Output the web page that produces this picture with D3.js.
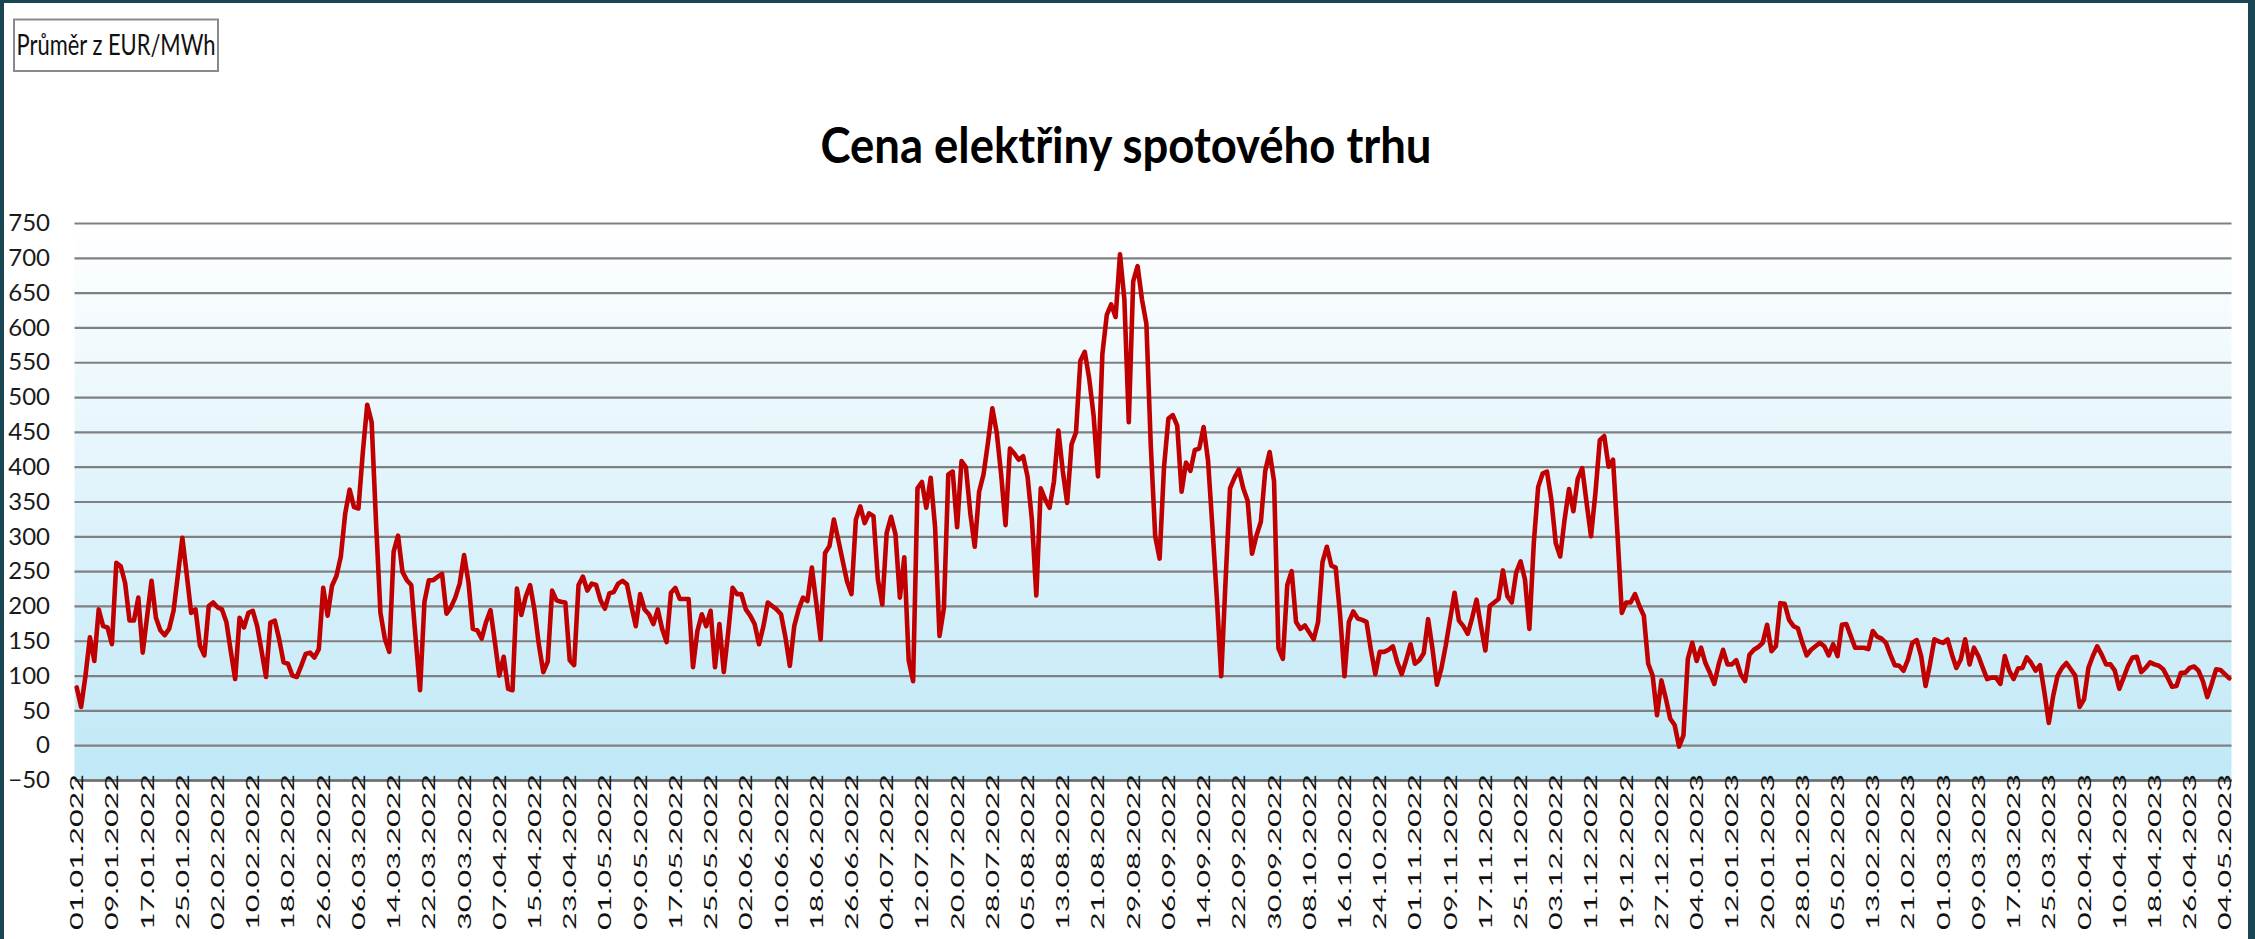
<!DOCTYPE html>
<html><head><meta charset="utf-8">
<script src="https://cdn.jsdelivr.net/npm/d3@7"></script>
<style>html,body{margin:0;padding:0;background:#1a4653;overflow:hidden}</style>
</head><body>
<svg id="c" width="2255" height="939"></svg>
<script>
// Daily average spot price, EUR/MWh, 01.01.2022 – 05.05.2023
const values = [
83,55,100,155,121,195,171,169,145,262,
257,233,179,179,212,133,185,236,183,165,
158,167,193,245,298,245,190,195,143,129,
200,205,198,195,177,135,95,183,169,190,
193,171,135,98,176,179,152,119,117,100,
98,114,131,133,126,138,226,186,229,243,
271,333,367,342,340,421,489,464,320,190,
153,134,278,301,249,237,230,153,79,206,
237,237,242,246,189,198,212,232,273,234,
167,165,153,177,194,148,100,127,81,79,
225,187,213,230,194,144,105,120,222,208,
206,205,122,115,230,242,222,232,230,208,
196,218,220,232,236,231,200,171,217,195,
188,174,195,167,148,219,226,210,210,210,
112,164,188,171,193,112,174,105,162,226,
217,217,195,186,174,145,171,205,200,195,
188,155,114,171,195,212,207,255,205,152,
276,286,324,295,265,235,217,324,343,319,
333,329,238,202,305,328,303,212,270,122,
92,369,378,341,384,313,157,197,389,393,
313,408,399,333,285,364,389,434,484,449,
389,316,426,419,410,415,386,323,215,369,
353,341,379,452,394,348,432,449,552,565,
527,474,386,562,618,633,615,705,640,464,
666,688,640,605,430,300,268,399,469,474,
459,364,406,394,424,426,457,409,313,212,
99,238,369,384,396,369,351,275,301,321,
394,421,379,139,124,230,250,177,167,172,
162,152,177,263,285,258,255,187,99,177,
192,182,180,177,137,102,134,134,137,142,
119,102,122,145,117,122,132,181,138,87,
110,143,181,219,179,171,160,183,209,171,
136,200,205,210,251,214,205,248,264,238,
167,290,371,390,393,352,290,271,324,368,
336,383,398,348,300,362,438,444,400,410,
305,190,205,205,217,200,186,117,100,43,
93,67,38,29,-2,14,124,147,121,140,
118,104,88,116,137,116,116,122,102,92,
130,137,141,147,173,135,142,204,203,180,
171,168,147,129,137,142,147,142,129,145,
128,173,174,157,140,140,140,138,164,156,
153,147,130,115,114,107,123,147,151,128,
85,116,152,149,147,152,130,111,123,152,
116,140,128,111,95,97,97,88,128,107,
95,110,111,126,118,107,115,76,32,71,
100,111,118,109,100,55,66,111,128,142,
130,116,116,107,81,97,114,126,127,105,
111,119,116,114,109,97,84,85,104,104,
111,113,107,92,69,88,109,108,102,96
];
const firstDay = new Date(2022, 0, 1);
const categories = values.map((_, i) => d3.timeDay.offset(firstDay, i));
const yTicks = [-50,0,50,100,150,200,250,300,350,400,450,500,550,600,650,700,750];
const labelStep = 8;
const chartTitle = "Cena elektřiny spotového trhu";
const fieldButton = "Průměr z EUR/MWh";

const fmt = d3.timeFormat("%d.%m.%Y");
const svg = d3.select("#c");
const FONT = "Lato, 'Open Sans', sans-serif";

svg.append("rect").attr("x", 4).attr("y", 3).attr("width", 2244).attr("height", 936).attr("fill", "#ffffff");

const L = 74.5, R = 2231.5, T = 223, B = 780;
const x = d3.scaleBand().domain(d3.range(values.length)).range([L, R]);
const y = d3.scaleLinear().domain([-50, 750]).range([B, T]);

const grad = svg.append("defs").append("linearGradient").attr("id", "bg")
  .attr("x1", 0).attr("y1", 0).attr("x2", 0).attr("y2", 1);
grad.append("stop").attr("offset", "0%").attr("stop-color", "#ffffff");
grad.append("stop").attr("offset", "100%").attr("stop-color", "#c0e8f7");
svg.append("rect").attr("x", L).attr("y", T).attr("width", R - L).attr("height", B - T).attr("fill", "url(#bg)");

// y axis with gridlines
const gy = svg.append("g").attr("transform", `translate(${L},0)`)
  .call(d3.axisLeft(y).tickValues(yTicks).tickSize(-(R - L)).tickPadding(L - 50).tickFormat(d3.format("d")));
gy.select(".domain").remove();
gy.selectAll(".tick line").attr("stroke", "#808080").attr("stroke-width", 2.2);
gy.selectAll(".tick text").attr("font-family", FONT).attr("font-size", 24).attr("fill", "#1a1a1a");

// x axis: rotated date labels every 8 days, reading bottom-to-top, ending just above the axis line
const tickIdx = d3.range(0, values.length, labelStep);
const gx = svg.append("g").attr("transform", `translate(0,${B})`)
  .call(d3.axisBottom(x).tickValues(tickIdx).tickSize(0).tickFormat(i => fmt(categories[i])));
gx.select(".domain").attr("stroke", "#6f6f6f").attr("stroke-width", 2.5);
gx.selectAll(".tick text")
  .attr("font-family", FONT).attr("font-size", 18).attr("fill", "#111")
  .attr("transform", "rotate(-90)")
  .attr("text-anchor", "end")
  .attr("x", 6).attr("y", 0).attr("dy", "0.36em")
  .attr("textLength", 156).attr("lengthAdjust", "spacingAndGlyphs");

// line
const line = d3.line().x((d, i) => x(i) + x.bandwidth() / 2).y(d => y(d));
svg.append("path").datum(values).attr("d", line)
  .attr("fill", "none").attr("stroke", "#c00000").attr("stroke-width", 4.6)
  .attr("stroke-linejoin", "round").attr("stroke-linecap", "round");

// title
svg.append("text").attr("x", 1126).attr("y", 163).attr("text-anchor", "middle")
  .attr("font-family", FONT).attr("font-weight", 700).attr("font-size", 50).attr("fill", "#000")
  .attr("textLength", 611).attr("lengthAdjust", "spacingAndGlyphs").text(chartTitle);

// field button
svg.append("rect").attr("x", 14).attr("y", 19.5).attr("width", 204).attr("height", 51.5)
  .attr("fill", "#fff").attr("stroke", "#8a8a8a").attr("stroke-width", 2);
svg.append("text").attr("x", 16.5).attr("y", 55).attr("font-family", FONT).attr("font-size", 28)
  .attr("fill", "#111").attr("textLength", 199).attr("lengthAdjust", "spacingAndGlyphs").text(fieldButton);
</script>
</body></html>
